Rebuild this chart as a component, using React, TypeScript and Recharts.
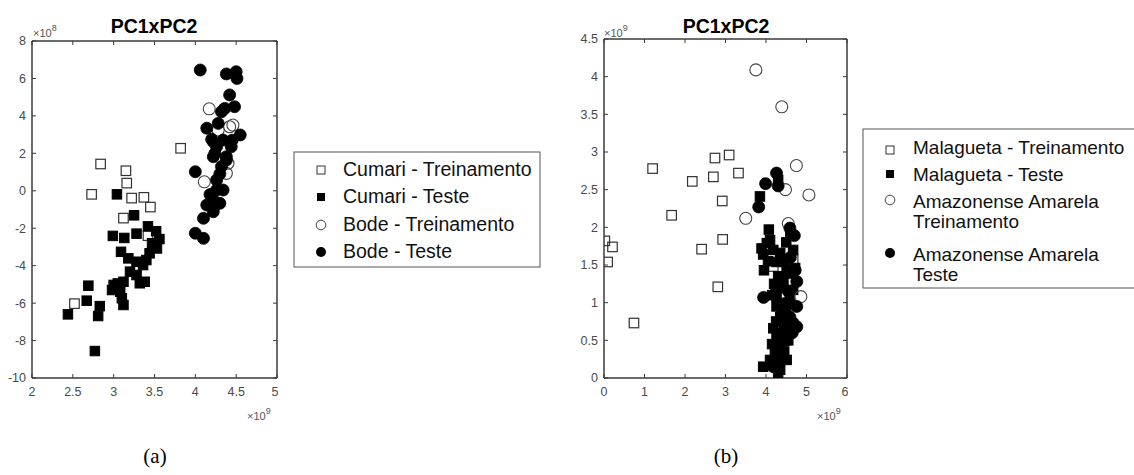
import React from 'react';
import { ScatterChart, Scatter, XAxis, YAxis, ReferenceArea } from 'recharts';

// ---------- Panel (a): PC1 in units of 1e9, PC2 in units of 1e8 ----------
const cumariTreinamento = [
  { x: 2.84, y: 1.43 }, { x: 3.15, y: 1.07 }, { x: 3.16, y: 0.41 }, { x: 2.73, y: -0.19 },
  { x: 3.22, y: -0.39 }, { x: 3.37, y: -0.35 }, { x: 3.45, y: -0.87 }, { x: 3.82, y: 2.27 },
  { x: 3.12, y: -1.46 }, { x: 2.52, y: -6.03 }, { x: 3.42, y: -2.4 },
];
const cumariTeste = [
  { x: 3.04, y: -0.19 }, { x: 3.25, y: -1.31 }, { x: 2.99, y: -2.41 }, { x: 3.13, y: -2.52 },
  { x: 3.28, y: -2.29 }, { x: 3.42, y: -1.9 }, { x: 3.52, y: -2.16 }, { x: 3.56, y: -2.58 },
  { x: 3.53, y: -3.08 }, { x: 3.09, y: -3.26 }, { x: 3.18, y: -3.61 }, { x: 3.28, y: -3.79 },
  { x: 3.4, y: -3.7 }, { x: 3.44, y: -3.34 }, { x: 3.36, y: -3.97 }, { x: 3.2, y: -4.32 },
  { x: 3.28, y: -4.5 }, { x: 3.38, y: -4.86 }, { x: 3.32, y: -4.94 }, { x: 3.12, y: -4.86 },
  { x: 3.0, y: -5.03 }, { x: 2.98, y: -5.3 }, { x: 3.08, y: -5.39 }, { x: 3.1, y: -5.74 },
  { x: 3.12, y: -6.1 }, { x: 2.69, y: -5.07 }, { x: 2.67, y: -5.87 }, { x: 2.44, y: -6.6 },
  { x: 2.83, y: -6.16 }, { x: 2.81, y: -6.69 }, { x: 2.77, y: -8.56 }, { x: 3.47, y: -2.8 },
  { x: 3.05, y: -4.95 },
];
const bodeTreinamento = [
  { x: 4.17, y: 4.38 }, { x: 4.11, y: 0.48 }, { x: 4.42, y: 3.42 }, { x: 4.28, y: 3.25 },
  { x: 4.4, y: 1.47 }, { x: 4.38, y: 0.93 }, { x: 4.46, y: 3.51 },
];
const bodeTeste = [
  { x: 4.06, y: 6.45 }, { x: 4.38, y: 6.24 }, { x: 4.5, y: 6.36 }, { x: 4.51, y: 6.0 },
  { x: 4.42, y: 5.12 }, { x: 4.36, y: 4.4 }, { x: 4.48, y: 4.49 }, { x: 4.32, y: 4.22 },
  { x: 4.14, y: 3.34 }, { x: 4.28, y: 3.6 }, { x: 4.2, y: 2.75 }, { x: 4.55, y: 2.98 },
  { x: 4.44, y: 2.35 }, { x: 4.26, y: 2.35 }, { x: 4.24, y: 2.0 }, { x: 4.38, y: 1.82 },
  { x: 4.22, y: 1.82 }, { x: 4.38, y: 1.64 }, { x: 4.0, y: 1.02 }, { x: 4.26, y: 0.57 },
  { x: 4.34, y: 0.04 }, { x: 4.26, y: 0.04 }, { x: 4.22, y: -0.49 }, { x: 4.14, y: -0.76 },
  { x: 4.24, y: -0.76 }, { x: 4.3, y: -0.67 }, { x: 4.1, y: -1.47 }, { x: 4.22, y: -1.12 },
  { x: 4.0, y: -2.27 }, { x: 4.1, y: -2.54 }, { x: 4.34, y: 2.71 }, { x: 4.22, y: 2.62 },
  { x: 4.32, y: 1.3 }, { x: 4.18, y: -0.2 }, { x: 4.45, y: 2.7 }, { x: 4.3, y: 0.9 },
];
const aXTicks = [2, 2.5, 3, 3.5, 4, 4.5, 5];
const aYTicks = [-10, -8, -6, -4, -2, 0, 2, 4, 6, 8];

// ---------- Panel (b): PC1 in units of 1e9, PC2 in units of 1e9 ----------
const malaguetaTreinamento = [
  { x: 1.2, y: 2.78 }, { x: 2.18, y: 2.61 }, { x: 2.7, y: 2.67 }, { x: 2.74, y: 2.92 },
  { x: 3.09, y: 2.96 }, { x: 3.32, y: 2.72 }, { x: 2.92, y: 2.35 }, { x: 1.67, y: 2.16 },
  { x: 0.02, y: 1.82 }, { x: 0.21, y: 1.74 }, { x: 0.09, y: 1.54 }, { x: 2.41, y: 1.71 },
  { x: 2.93, y: 1.84 }, { x: 2.81, y: 1.21 }, { x: 0.74, y: 0.73 }, { x: 4.67, y: 1.57 },
  { x: 4.18, y: 1.48 },
];
const malaguetaTeste = [
  { x: 3.85, y: 2.41 }, { x: 4.3, y: 2.63 }, { x: 4.07, y: 1.97 }, { x: 4.1, y: 1.83 },
  { x: 3.89, y: 1.72 }, { x: 4.02, y: 1.79 }, { x: 3.93, y: 1.64 }, { x: 3.95, y: 1.43 },
  { x: 4.26, y: 1.54 }, { x: 4.18, y: 1.7 }, { x: 4.35, y: 1.66 }, { x: 4.67, y: 1.7 },
  { x: 4.72, y: 1.46 }, { x: 4.51, y: 1.43 }, { x: 4.43, y: 1.3 }, { x: 4.26, y: 1.08 },
  { x: 4.26, y: 0.95 }, { x: 4.35, y: 0.81 }, { x: 4.18, y: 0.66 }, { x: 4.26, y: 0.55 },
  { x: 4.35, y: 0.42 }, { x: 4.22, y: 0.33 }, { x: 3.93, y: 0.15 }, { x: 4.1, y: 0.24 },
  { x: 4.51, y: 0.24 }, { x: 4.3, y: 0.02 }, { x: 4.35, y: 0.11 }, { x: 4.59, y: 1.04 },
  { x: 4.67, y: 1.17 }, { x: 4.6, y: 1.9 }, { x: 4.4, y: 1.2 }, { x: 4.45, y: 0.7 },
  { x: 4.2, y: 1.25 }, { x: 4.55, y: 0.5 }, { x: 4.15, y: 1.1 }, { x: 4.3, y: 1.35 },
  { x: 4.45, y: 1.55 }, { x: 4.5, y: 0.9 }, { x: 4.25, y: 0.75 }, { x: 4.4, y: 0.6 },
  { x: 4.15, y: 0.45 }, { x: 4.45, y: 0.35 }, { x: 4.3, y: 0.2 }, { x: 4.05, y: 1.55 },
  { x: 4.5, y: 1.8 },
];
const amazonenseTreinamento = [
  { x: 3.75, y: 4.09 }, { x: 4.39, y: 3.6 }, { x: 4.75, y: 2.82 }, { x: 5.06, y: 2.43 },
  { x: 4.48, y: 2.5 }, { x: 3.5, y: 2.12 }, { x: 4.55, y: 2.05 }, { x: 4.86, y: 1.08 },
];
const amazonenseTeste = [
  { x: 4.26, y: 2.72 }, { x: 4.3, y: 2.55 }, { x: 3.99, y: 2.58 }, { x: 3.82, y: 2.27 },
  { x: 4.59, y: 1.99 }, { x: 4.7, y: 1.89 }, { x: 4.76, y: 1.28 }, { x: 3.94, y: 1.07 },
  { x: 4.76, y: 0.95 }, { x: 4.67, y: 0.73 }, { x: 4.51, y: 0.59 }, { x: 4.26, y: 1.17 },
  { x: 4.59, y: 0.81 }, { x: 4.35, y: 0.37 }, { x: 4.18, y: 0.15 }, { x: 4.72, y: 1.43 },
  { x: 4.76, y: 0.68 }, { x: 4.51, y: 0.5 }, { x: 4.35, y: 0.28 }, { x: 4.47, y: 0.99 },
  { x: 4.35, y: 1.21 }, { x: 4.6, y: 1.6 }, { x: 4.55, y: 1.15 }, { x: 4.65, y: 0.6 },
  { x: 4.4, y: 0.85 }, { x: 4.6, y: 1.4 },
];
const bXTicks = [0, 1, 2, 3, 4, 5, 6];
const bYTicks = [0, 0.5, 1, 1.5, 2, 2.5, 3, 3.5, 4, 4.5];

const legendA = ['Cumari - Treinamento', 'Cumari - Teste', 'Bode - Treinamento', 'Bode - Teste'];
const legendB = [
  ['Malagueta - Treinamento'],
  ['Malagueta - Teste'],
  ['Amazonense Amarela', 'Treinamento'],
  ['Amazonense Amarela', 'Teste'],
];

const AXIS = '#3a3a3a';
const TICKTXT = '#4a4a4a';
const FONT = '"Liberation Sans", Arial, sans-serif';

const SQ = 9.5;
const CR = 6;
const OpenSquare = (p: any) => (
  <rect x={p.cx - SQ / 2} y={p.cy - SQ / 2} width={SQ} height={SQ} fill="none" stroke="#333" strokeWidth={1.2} />
);
const FilledSquare = (p: any) => (
  <rect x={p.cx - SQ / 2} y={p.cy - SQ / 2} width={SQ} height={SQ} fill="#000" stroke="#000" strokeWidth={1} />
);
const OpenCircle = (p: any) => (
  <circle cx={p.cx} cy={p.cy} r={CR} fill="none" stroke="#444" strokeWidth={1.1} />
);
const FilledCircle = (p: any) => <circle cx={p.cx} cy={p.cy} r={CR} fill="#000" stroke="#000" strokeWidth={0.8} />;

const EmptyTick = () => <g />;

const tickStyle = { fill: TICKTXT, fontSize: 12.5, fontFamily: FONT };
const lineStyle = { stroke: AXIS, strokeWidth: 1 };

function Panel(props: {
  left: number; width: number; yw: number; top: number; plotH: number;
  xDomain: [number, number]; yDomain: [number, number]; xTicks: number[]; yTicks: number[];
  series: { data: any[]; shape: any; name: string }[];
}) {
  const { left, width, yw, top, plotH, xDomain, yDomain, xTicks, yTicks, series } = props;
  return (
    <div style={{ position: 'absolute', left, top: 0 }}>
      <ScatterChart width={width + 1} height={top + plotH + 30} margin={{ top: top - 1, right: 0, bottom: 0, left: 0 }}>
        <XAxis xAxisId="b" type="number" dataKey="x" domain={xDomain} ticks={xTicks} allowDataOverflow
          orientation="bottom" height={30} axisLine={lineStyle} tickLine={lineStyle} tickSize={-4} tickMargin={13} tick={tickStyle} />
        <XAxis xAxisId="t" type="number" dataKey="x" domain={xDomain} ticks={xTicks} allowDataOverflow
          orientation="top" height={1} axisLine={lineStyle} tickLine={lineStyle} tickSize={-4} tick={EmptyTick} />
        <YAxis yAxisId="l" type="number" dataKey="y" domain={yDomain} ticks={yTicks} allowDataOverflow
          orientation="left" width={yw} axisLine={lineStyle} tickLine={lineStyle} tickSize={-4} tickMargin={10} tick={tickStyle} />
        <YAxis yAxisId="r" type="number" dataKey="y" domain={yDomain} ticks={yTicks} allowDataOverflow
          orientation="right" width={1} axisLine={lineStyle} tickLine={lineStyle} tickSize={-4} tick={EmptyTick} />
        <ReferenceArea xAxisId="b" yAxisId="l" x1={xDomain[0]} x2={xDomain[1]} y1={yDomain[0]} y2={yDomain[1]}
          fill="none" fillOpacity={0} stroke={AXIS} strokeWidth={1} ifOverflow="visible" />
        {series.map((s) => (
          <Scatter key={s.name} name={s.name} data={s.data} xAxisId="b" yAxisId="l" shape={s.shape} isAnimationActive={false} />
        ))}
      </ScatterChart>
    </div>
  );
}

const LegendMarker = ({ kind, x, y }: { kind: number; x: number; y: number }) => {
  const s = 8;
  if (kind === 0) return <rect x={x - s / 2} y={y - s / 2} width={s} height={s} fill="#fff" stroke="#333" strokeWidth={1} />;
  if (kind === 1) return <rect x={x - s / 2} y={y - s / 2} width={s} height={s} fill="#000" />;
  if (kind === 2) return <circle cx={x} cy={y} r={4.8} fill="#fff" stroke="#444" strokeWidth={1} />;
  return <circle cx={x} cy={y} r={5} fill="#000" />;
};

const Exp = ({ x, y, e }: { x: number; y: number; e: string }) => (
  <text x={x} y={y} fontFamily={FONT} fontSize={11} fill="#555">
    ×10<tspan dy={-6} fontSize={9}>{e}</tspan>
  </text>
);

export default function App() {
  const aRowsY = [176, 203, 231, 258];
  const aMarkY = [170, 197, 225, 252];
  const bMarkY = [150, 174, 200, 253];
  const bTextY = [[154], [181], [208, 228], [261, 281]];
  return (
    <div style={{ position: 'absolute', left: 0, top: 0, width: 1134, height: 475, background: '#fff', overflow: 'hidden' }}>
      <Panel left={0} width={277} yw={32} top={41} plotH={337}
        xDomain={[2, 5]} yDomain={[-10, 8]} xTicks={aXTicks} yTicks={aYTicks}
        series={[
          { name: legendA[0], data: cumariTreinamento, shape: OpenSquare },
          { name: legendA[1], data: cumariTeste, shape: FilledSquare },
          { name: legendA[2], data: bodeTreinamento, shape: OpenCircle },
          { name: legendA[3], data: bodeTeste, shape: FilledCircle },
        ]} />
      <Panel left={564} width={283} yw={40} top={39} plotH={339}
        xDomain={[0, 6]} yDomain={[0, 4.5]} xTicks={bXTicks} yTicks={bYTicks}
        series={[
          { name: 'Malagueta - Treinamento', data: malaguetaTreinamento, shape: OpenSquare },
          { name: 'Malagueta - Teste', data: malaguetaTeste, shape: FilledSquare },
          { name: 'Amazonense Amarela Treinamento', data: amazonenseTreinamento, shape: OpenCircle },
          { name: 'Amazonense Amarela Teste', data: amazonenseTeste, shape: FilledCircle },
        ]} />
      <svg width={1134} height={475} style={{ position: 'absolute', left: 0, top: 0, pointerEvents: 'none' }}>
        <text x={154} y={33} textAnchor="middle" fontFamily={FONT} fontWeight="bold" fontSize={19.5} fill="#000">PC1xPC2</text>
        <text x={726} y={33} textAnchor="middle" fontFamily={FONT} fontWeight="bold" fontSize={19.5} fill="#000">PC1xPC2</text>
        <Exp x={33} y={37} e="8" />
        <Exp x={247} y={420} e="9" />
        <Exp x={604} y={37} e="9" />
        <Exp x={817} y={420} e="9" />

        <rect x={294} y={152} width={246} height={115} fill="#fff" stroke="#555" strokeWidth={1} />
        {legendA.map((t, i) => (
          <g key={t}>
            <LegendMarker kind={i} x={321} y={aMarkY[i]} />
            <text x={343} y={aRowsY[i]} fontFamily={FONT} fontSize={19.5} fill="#111">{t}</text>
          </g>
        ))}

        <rect x={863} y={129} width={300} height={159} fill="#fff" stroke="#555" strokeWidth={1} />
        {legendB.map((lines, i) => (
          <g key={i}>
            <LegendMarker kind={i} x={890} y={bMarkY[i]} />
            {lines.map((t, j) => (
              <text key={j} x={913} y={bTextY[i][j]} fontFamily={FONT} fontSize={19} fill="#111">{t}</text>
            ))}
          </g>
        ))}

        <text x={155} y={463} textAnchor="middle" fontFamily='"Liberation Serif", "Times New Roman", serif' fontSize={21} fill="#000">(a)</text>
        <text x={726} y={463} textAnchor="middle" fontFamily='"Liberation Serif", "Times New Roman", serif' fontSize={21} fill="#000">(b)</text>
      </svg>
    </div>
  );
}
